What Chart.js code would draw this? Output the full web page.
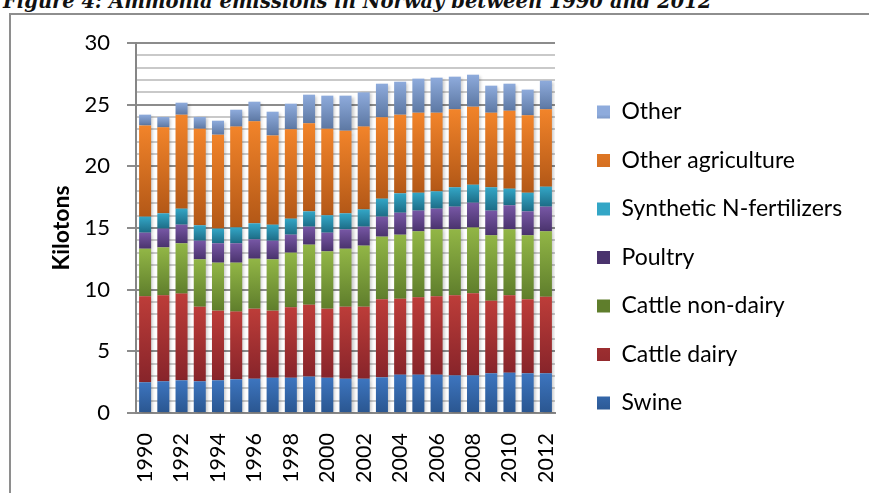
<!DOCTYPE html>
<html>
<head>
<meta charset="utf-8">
<script src="https://cdn.jsdelivr.net/npm/chart.js@4.4.0/dist/chart.umd.min.js"></script>
<style>
  html, body { margin: 0; padding: 0; background: #fff; }
  #wrap { position: relative; width: 869px; height: 493px; overflow: hidden; }
  #frame { position: absolute; left: 9px; top: 13px; width: 900px; height: 600px;
           border-left: 2px solid #8e8e8e; border-top: 2px solid #8e8e8e; }
  #title { position: absolute; left: 3px; top: -8px; white-space: nowrap; color: #111;
           font: italic bold 19.5px "DejaVu Serif"; line-height: 20px; }
  canvas { position: absolute; left: 0; top: 0; }
</style>
</head>
<body>
<div id="wrap">
  <div id="frame"></div>
  <div id="title">Figure 4: Ammonia emissions in Norway between 1990 and 2012</div>
  <canvas id="chart" width="869" height="493"></canvas>
</div>
<script>
// data (kilotons)
const years = ["1990","1991","1992","1993","1994","1995","1996","1997","1998","1999","2000","2001",
  "2002","2003","2004","2005","2006","2007","2008","2009","2010","2011","2012"];
const swine = [2.49,2.57,2.65,2.57,2.65,2.73,2.78,2.86,2.86,2.95,2.86,2.78,2.78,2.89,3.11,3.11,3.11,3.05,3.05,3.22,3.27,3.22,3.22];
const cattleDairy = [6.97,6.97,7.03,6.05,5.65,5.49,5.68,5.44,5.71,5.83,5.60,5.84,5.84,6.33,6.16,6.27,6.35,6.49,6.65,5.89,6.27,6.00,6.21];
const cattleNonDairy = [3.86,3.89,4.08,3.84,3.89,3.97,4.05,4.16,4.43,4.87,4.65,4.70,4.95,5.08,5.19,5.35,5.43,5.35,5.35,5.30,5.35,5.19,5.30];
const poultry = [1.30,1.52,1.51,1.51,1.57,1.57,1.57,1.51,1.46,1.46,1.51,1.57,1.54,1.62,1.78,1.68,1.68,1.84,2.00,2.00,1.95,1.94,2.00];
const synthN = [1.30,1.24,1.30,1.25,1.19,1.29,1.30,1.30,1.30,1.24,1.41,1.30,1.40,1.46,1.57,1.45,1.40,1.57,1.46,1.89,1.35,1.51,1.62];
const otherAgri = [7.40,6.97,7.62,7.83,7.62,8.17,8.27,7.24,7.24,7.14,7.02,6.70,6.71,6.59,6.38,6.49,6.38,6.32,6.33,6.05,6.32,6.28,6.27];
const other = [0.87,0.84,0.97,0.95,1.13,1.37,1.59,1.92,2.08,2.32,2.68,2.84,2.78,2.73,2.67,2.76,2.84,2.65,2.59,2.19,2.19,2.08,2.33];

const names = ["Swine","Cattle dairy","Cattle non-dairy","Poultry","Synthetic N-fertilizers","Other agriculture","Other"];
const series = [swine, cattleDairy, cattleNonDairy, poultry, synthN, otherAgri, other];
// light (top) / dark (bottom) of each gradient
const lights = ["#3d75bf","#bd3d39","#92b646","#7757a5","#33a6c6","#f2842a","#8eabdc"];
const darks  = ["#2a5690","#87242a","#5f7e2c","#4a336d","#1d6c86","#b35817","#5d78a3"];
const mids   = ["#3566a8","#a83230","#7a9b3b","#634689","#288aa6","#d36f21","#7692c2"];

const FONT = "Lato";
const PLOT_RIGHT = 555;

function segFill(ctx, d) {
  const chart = ctx.chart;
  const y = chart.scales.y;
  if (ctx.type !== "data" || !y) return mids[d];
  const i = ctx.dataIndex;
  let base = 0;
  for (let k = 0; k < d; k++) base += series[k][i];
  const top = y.getPixelForValue(base + series[d][i]);
  const bot = y.getPixelForValue(base);
  if (!isFinite(top) || !isFinite(bot) || top === bot) return mids[d];
  const g = chart.ctx.createLinearGradient(0, top, 0, bot);
  g.addColorStop(0, lights[d]);
  g.addColorStop(1, darks[d]);
  return g;
}

const legendFont = 23;
const legendPad = 25.5;

const tweaks = {
  id: "tweaks",
  afterLayout(chart) {
    // put the legend where the original has it (and don't let it clip the text)
    const lg = chart.legend;
    lg.left = 597 - legendPad;
    lg.right = chart.width;
    lg.width = lg.right - lg.left;
    lg.top = 112 - legendFont / 2 - legendPad;
    lg.bottom = chart.height;
    lg.height = lg.bottom - lg.top;
  },
  beforeDatasetsDraw(chart) {
    const c = chart.ctx;
    c.save();
    c.shadowColor = "rgba(0,0,0,0.22)";
    c.shadowBlur = 3;
    c.shadowOffsetX = 2;
    c.shadowOffsetY = 1;
  },
  afterDatasetsDraw(chart) {
    chart.ctx.restore();
  }
};

const chart = new Chart(document.getElementById("chart"), {
  type: "bar",
  data: {
    labels: years,
    datasets: series.map((vals, d) => ({
      label: names[d],
      data: vals,
      backgroundColor: (ctx) => segFill(ctx, d),
      borderWidth: 0,
      barPercentage: 0.66,
      categoryPercentage: 1
    }))
  },
  options: {
    responsive: false,
    animation: false,
    layout: { padding: { left: 48, right: 0, top: 43, bottom: 0 } },
    plugins: {
      tooltip: { enabled: false },
      legend: {
        position: "right",
        align: "start",
        reverse: true,
        labels: {
          color: "#000",
          font: { family: FONT, size: legendFont },
          boxWidth: 13,
          boxHeight: 13,
          padding: legendPad
        }
      }
    },
    scales: {
      x: {
        stacked: true,
        grid: { display: false, drawTicks: false },
        border: { display: true, color: "#868686", width: 2 },
        ticks: {
          color: "#000",
          font: { family: FONT, size: 21.5 },
          autoSkip: false,
          minRotation: 90,
          maxRotation: 90,
          padding: 20,
          callback: (v, i) => (i % 2 === 0 ? years[i] : "")
        },
        afterFit: (s) => { s.height = 80; }
      },
      y: {
        stacked: true,
        min: 0,
        max: 30,
        border: { display: true, color: "#868686", width: 2 },
        grid: {
          color: (c) => (c.tick.value % 5 === 0 ? "#8c8c8c" : "#c9c9c9"),
          lineWidth: 2,
          tickLength: 9,
          tickColor: (c) => (c.tick.value % 5 === 0 ? "#8c8c8c" : "rgba(0,0,0,0)")
        },
        ticks: {
          stepSize: 1,
          autoSkip: false,
          color: "#000",
          font: { family: FONT, size: 22 },
          padding: 17,
          callback: (v) => (v % 5 === 0 ? v : "")
        },
        title: {
          display: true,
          text: "Kilotons",
          color: "#000",
          font: { family: FONT, size: 23, weight: "bold" },
          padding: 0
        },
        afterFit: (s) => { s.width = 88; }
      }
    }
  },
  plugins: [tweaks]
});

// nudge the right padding until the plot ends where the original does
for (let n = 0; n < 8; n++) {
  const off = chart.chartArea.right - PLOT_RIGHT;
  if (Math.abs(off) < 0.5) break;
  chart.options.layout.padding.right = Math.max(0, chart.options.layout.padding.right + off / 0.75);
  chart.update();
}
</script>
</body>
</html>
